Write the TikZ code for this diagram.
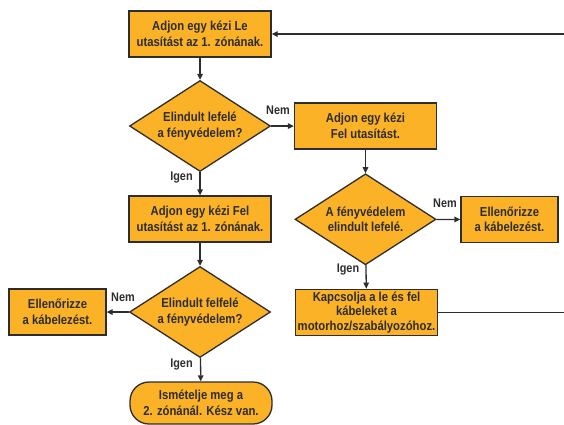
\documentclass[tikz,border=0pt]{standalone}
\usepackage{fontspec}
\setmainfont{Liberation Sans}[FakeStretch=0.87]
\usetikzlibrary{arrows.meta, shapes.geometric}
\definecolor{boxfill}{RGB}{251,178,38}
\definecolor{edge}{RGB}{45,45,45}

\begin{document}
\begin{tikzpicture}[x=1pt, y=-1pt,
  every node/.style={text=edge, font=\fontsize{13}{15.6}\selectfont\bfseries},
  stepbox/.style={draw=edge, line width=1.3pt, fill=boxfill, align=center, inner sep=0pt, minimum width=142pt, minimum height=46pt},
  decide/.style={diamond, aspect=1.55, draw=edge, line width=1.3pt, fill=boxfill, align=center, inner sep=0pt, minimum width=141pt, minimum height=91pt},
  finish/.style={stepbox, rounded corners=19pt, minimum height=42pt},
  lbl/.style={inner sep=0pt, font=\fontsize{12.5}{14}\selectfont\bfseries},
  flow/.style={draw=edge, line width=1.3pt, -{Triangle[length=6pt, width=5.5pt]}}]
  \useasboundingbox (0,0) rectangle (564,424);

  % left column
  \node[stepbox] (le) at (200,34) {Adjon egy kézi Le\\utasítást az 1. zónának.};
  \node[decide] (le?) at (200,126) {Elindult lefelé\\a fényvédelem?};
  \node[stepbox] (fel) at (200,219) {Adjon egy kézi Fel\\utasítást az 1. zónának.};
  \node[decide] (fel?) at (200,312) {Elindult felfelé\\a fényvédelem?};
  \node[stepbox, minimum width=97pt] (check1) at (57.5,312) {Ellenőrizze\\a kábelezést.};
  \node[finish] (done) at (201,403) {Ismételje meg a\\2. zónánál. Kész van.};

  % right column
  \node[stepbox] (felonly) at (365.5,126) {Adjon egy kézi\\Fel utasítást.};
  \node[decide] (down?) at (365.5,219.3) {A fényvédelem\\elindult lefelé.};
  \node[stepbox, minimum width=97pt] (check2) at (509.5,219.5) {Ellenőrizze\\a kábelezést.};
  \node[stepbox, font=\fontsize{13}{14.5}\selectfont\bfseries] (swap) at (366.5,312.3) {Kapcsolja a le és fel\\kábeleket a\\motorhoz/szabályozóhoz.};

  \coordinate (back) at (564,34);
  \coordinate (out) at (564,312.3);

  % yes / no labels
  \node[lbl] (nem1) at (278,110.5) {Nem};
  \node[lbl] (igen1) at (181.5,178) {Igen};
  \node[lbl] (nem2) at (445,203) {Nem};
  \node[lbl] (igen2) at (348,270) {Igen};
  \node[lbl] (nem3) at (123,297) {Nem};
  \node[lbl] (igen3) at (181.5,365) {Igen};

  \draw[flow] (le) -- (le?);
  \draw[flow] (le?) -- (fel);
  \draw[flow] (fel) -- (fel?);
  \draw[flow] (fel?) -- (done);
  \draw[flow] (fel?) -- (check1);
  \draw[flow] (le?) -- (felonly);
  \draw[flow] (felonly) -- (down?);
  \draw[flow] (down?) -- (check2);
  \draw[flow] (down?) -- (swap);
  \draw[draw=edge, line width=1.3pt] (swap.east) -- (out);
  \draw[flow] (back) -- (le.east);
\end{tikzpicture}
\end{document}
